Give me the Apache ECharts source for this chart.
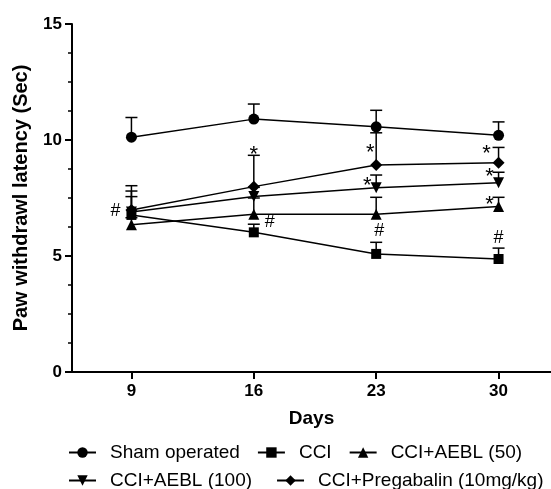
<!DOCTYPE html>
<html>
<head>
<meta charset="utf-8">
<script src="https://cdn.jsdelivr.net/npm/echarts@6/dist/echarts.min.js"></script>
<style>
html,body{margin:0;padding:0;background:#fff;}
#chart{width:551px;height:489px;}
</style>
</head>
<body>
<div id="chart"></div>
<script>
// ---- data ----
const days = [9, 16, 23, 30];
const xTicks = [9, 16, 23, 30];
const yTicks = [0, 5, 10, 15];

const seriesNames = ['Sham operated', 'CCI', 'CCI+AEBL (50)', 'CCI+AEBL (100)', 'CCI+Pregabalin (10mg/kg)'];
const shamMean = [10.12, 10.9, 10.57, 10.2];
const shamSem  = [0.85, 0.65, 0.71, 0.58];
const cciMean  = [6.77, 6.02, 5.09, 4.87];
const cciSem   = [0.79, 0.35, 0.5, 0.47];
const aebl50Mean = [6.35, 6.8, 6.8, 7.13];
const aebl50Sem  = [0.3, 0.7, 0.73, 0.4];
const aebl100Mean = [6.9, 7.56, 7.94, 8.16];
const aebl100Sem  = [0.9, 0.4, 0.55, 0.45];
const pregMean = [6.98, 7.99, 8.92, 9.02];
const pregSem  = [1.05, 1.35, 1.39, 0.66];

// significance marks: [series index, day index, mark, anchor]
const marks = [
  [1, 0, '#', 'point'],
  [1, 1, '#', 'bar'],
  [1, 2, '#', 'bar'],
  [1, 3, '#', 'bar'],
  [4, 1, '*', 'bar'],
  [4, 2, '*', 'bar'],
  [3, 2, '*', 'bar'],
  [4, 3, '*', 'bar'],
  [3, 3, '*', 'bar'],
  [2, 3, '*', 'bar']
];
// ---- styling ----
const markOffsets = [[-16,-4],[16,-2],[3,-11],[0,-10],[0,-6],[-6,14],[-9,5],[-12,1],[-9,-1],[-9,2]];

const means = [shamMean, cciMean, aebl50Mean, aebl100Mean, pregMean];
const sems  = [shamSem, cciSem, aebl50Sem, aebl100Sem, pregSem];
const symbols = ['circle', 'rect', 'triangle', 'path://M0,0 L10,0 L5,9 Z', 'diamond'];
const symbolSizes = [11, 10, 11, 11, 12];
const FONT = 'Liberation Sans, Arial, sans-serif';

const chart = echarts.init(document.getElementById('chart'), null, {renderer: 'canvas'});

const series = [];
// error bars
seriesNames.forEach((name, si) => {
  series.push({
    type: 'custom',
    name: name + ' err',
    silent: true,
    z: 1,
    data: days.map((d, i) => [d, means[si][i], sems[si][i]]),
    renderItem: function (params, api) {
      const x = api.value(0), y = api.value(1), e = api.value(2);
      const p0 = api.coord([x, y]);
      const p1 = api.coord([x, y + e]);
      const st = {stroke: '#000', lineWidth: 1.5};
      return {type: 'group', children: [
        {type: 'line', shape: {x1: p0[0], y1: p0[1], x2: p1[0], y2: p1[1]}, style: st},
        {type: 'line', shape: {x1: p1[0] - 6, y1: p1[1], x2: p1[0] + 6, y2: p1[1]}, style: st}
      ]};
    }
  });
});
// lines
seriesNames.forEach((name, si) => {
  series.push({
    type: 'line',
    name: name,
    z: 3,
    data: days.map((d, i) => [d, means[si][i]]),
    symbol: symbols[si],
    symbolSize: symbolSizes[si],
    showAllSymbol: true,
    itemStyle: {color: '#000'},
    lineStyle: {color: '#000', width: 1.5},
    emphasis: {disabled: true}
  });
});
// significance marks
series.push({
  type: 'custom',
  name: 'marks',
  silent: true,
  z: 4,
  data: marks.map((m, k) => {
    const si = m[0], di = m[1];
    const v = m[3] === 'bar' ? means[si][di] + sems[si][di] : means[si][di];
    return [days[di], v, k];
  }),
  renderItem: function (params, api) {
    const k = api.value(2);
    const p = api.coord([api.value(0), api.value(1)]);
    const off = markOffsets[k];
    const txt = marks[k][2];
    const isStar = txt === '*';
    return {
      type: 'text',
      x: p[0] + off[0],
      y: p[1] + off[1] + (isStar ? 6 : 0),
      style: {text: txt, fill: '#000', font: (isStar ? '22px ' : '18px ') + FONT, align: 'center', verticalAlign: 'middle'}
    };
  }
});

const legendText = {color: '#000', fontSize: 19, fontFamily: FONT, padding: [0, 0, 0, 9]};

chart.setOption({
  animation: false,
  backgroundColor: '#fff',
  grid: {left: 72, right: 0, top: 24, bottom: 117, containLabel: false},
  legend: [
    {data: seriesNames.slice(0, 3), left: 68, top: 443, width: 540, padding: 0, itemWidth: 27, itemHeight: 13, itemGap: 17,
     textStyle: legendText, selectedMode: false},
    {data: seriesNames.slice(3), left: 68, top: 471, width: 540, padding: 0, itemWidth: 27, itemHeight: 13, itemGap: 24,
     textStyle: legendText, selectedMode: false}
  ],
  xAxis: {
    type: 'value',
    min: 5.6,
    max: 33,
    name: 'Days',
    nameLocation: 'middle',
    nameGap: 37,
    nameTextStyle: {color: '#000', fontSize: 19, fontWeight: 'bold', fontFamily: FONT},
    axisLine: {show: true, onZero: false, lineStyle: {color: '#000', width: 2}},
    axisTick: {show: true, customValues: xTicks, length: 7, lineStyle: {color: '#000', width: 2}},
    axisLabel: {customValues: xTicks, color: '#000', fontSize: 17, fontWeight: 'bold', fontFamily: FONT, margin: 11},
    splitLine: {show: false}
  },
  yAxis: {
    type: 'value',
    min: 0,
    max: 15,
    interval: 5,
    name: 'Paw withdrawl latency (Sec)',
    nameLocation: 'middle',
    nameGap: 41,
    nameTextStyle: {color: '#000', fontSize: 20, fontWeight: 'bold', fontFamily: FONT},
    axisLine: {show: true, lineStyle: {color: '#000', width: 2}},
    axisTick: {show: true, length: 7, lineStyle: {color: '#000', width: 2}},
    minorTick: {show: true, splitNumber: 4, length: 4, lineStyle: {color: '#000', width: 1.5}},
    axisLabel: {color: '#000', fontSize: 17, fontWeight: 'bold', fontFamily: FONT, margin: 10,
      customValues: yTicks},
    splitLine: {show: false}
  },
  series: series
});
</script>
</body>
</html>
